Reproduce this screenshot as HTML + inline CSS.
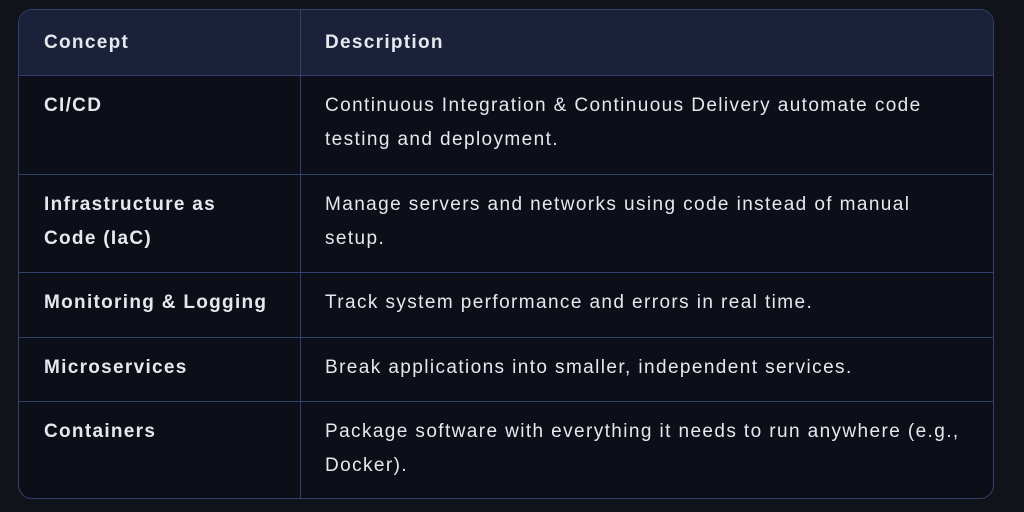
<!DOCTYPE html>
<html><head><style>
html,body{margin:0;padding:0;background:#11131b;width:1024px;height:512px;overflow:hidden}
.t{position:absolute;left:18px;top:9px;width:974px;height:488px;border:1.5px solid #34416f;border-radius:14px;background:#0c0f17;overflow:hidden;font-family:"Liberation Sans",sans-serif;color:#e6e8ee}
.hd{position:absolute;left:0;top:0;width:100%;height:65px;background:#1b2139}
.h{position:absolute;left:0;width:100%;border-top:1.5px solid #34416f}
.v{position:absolute;left:281px;top:0;height:100%;border-left:1.5px solid #34416f}
.c{position:absolute;font-size:19px;line-height:34px;letter-spacing:1.4px;white-space:nowrap}
.b{font-weight:bold;left:25px;width:250px;letter-spacing:1.3px}
.d{left:306px;width:660px}
</style></head><body>
<div class="t">
<div class="hd"></div>
<div class="h" style="top:65px"></div>
<div class="h" style="top:164px"></div>
<div class="h" style="top:262px"></div>
<div class="h" style="top:327px"></div>
<div class="h" style="top:391px"></div>
<div class="v"></div>
<div class="c b" style="top:16px">Concept</div>
<div class="c b d" style="left:306px;top:16px">Description</div>
<div class="c b" style="top:79px">CI/CD</div>
<div class="c d" style="top:79px">Continuous Integration &amp; Continuous Delivery automate code<br>testing and deployment.</div>
<div class="c b" style="top:178px">Infrastructure as<br>Code (IaC)</div>
<div class="c d" style="top:178px">Manage servers and networks using code instead of manual<br>setup.</div>
<div class="c b" style="top:276px">Monitoring &amp; Logging</div>
<div class="c d" style="top:276px">Track system performance and errors in real time.</div>
<div class="c b" style="top:341px">Microservices</div>
<div class="c d" style="top:341px">Break applications into smaller, independent services.</div>
<div class="c b" style="top:405px">Containers</div>
<div class="c d" style="top:405px">Package software with everything it needs to run anywhere (e.g.,<br>Docker).</div>
</div>
</body></html>
